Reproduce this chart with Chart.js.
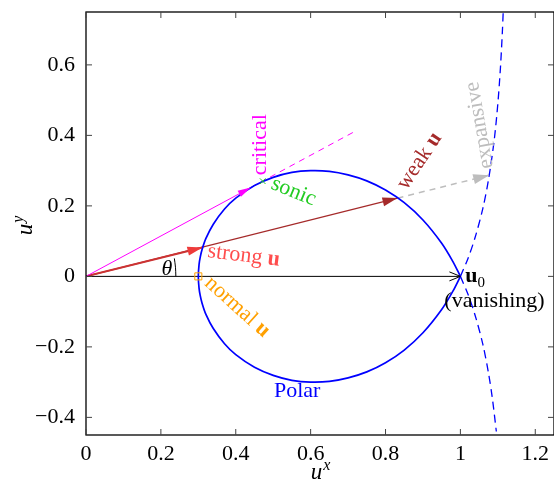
<!DOCTYPE html>
<html>
<head>
<meta charset="utf-8">
<script src="https://cdn.jsdelivr.net/npm/chart.js@4.4.1/dist/chart.umd.min.js"></script>
<style>
  html, body { margin: 0; padding: 0; background: #fff; }
  #wrap { width: 554px; height: 482px; }
</style>
</head>
<body>
<div id="wrap"><canvas id="polarChart"></canvas></div>
<script>
// shock polar (u0 = 1, normal shock at 0.3)
const polarUx = [1, 0.98, 0.95, 0.9, 0.85, 0.8, 0.75, 0.7, 0.65, 0.6, 0.55, 0.5, 0.45, 0.4, 0.37, 0.34, 0.32, 0.31, 0.305, 0.302, 0.3,
                 0.302, 0.305, 0.31, 0.32, 0.34, 0.37, 0.4, 0.45, 0.5, 0.55, 0.6, 0.65, 0.7, 0.75, 0.8, 0.85, 0.9, 0.95, 0.98, 1];
const polarUy = [0, 0.042, 0.094, 0.160, 0.209, 0.245, 0.271, 0.288, 0.298, 0.300, 0.295, 0.281, 0.258, 0.222, 0.191, 0.148, 0.107, 0.076, 0.054, 0.034, 0,
                 -0.034, -0.054, -0.076, -0.107, -0.148, -0.191, -0.222, -0.258, -0.281, -0.295, -0.300, -0.298, -0.288, -0.271, -0.245, -0.209, -0.160, -0.094, -0.042, 0];

// non physical branches beyond u0 (dashed)
const branchUpUx = [1, 1.02, 1.04, 1.06, 1.075, 1.09, 1.10, 1.107, 1.112, 1.115];
const branchUpUy = [0, 0.050, 0.113, 0.193, 0.274, 0.384, 0.490, 0.593, 0.692, 0.768];
const branchDownUx = [1, 1.02, 1.04, 1.06, 1.075, 1.085, 1.096];
const branchDownUy = [0, -0.050, -0.113, -0.193, -0.274, -0.343, -0.44];

// vectors
const freeStreamUx = [0, 1], freeStreamUy = [0, 0];
const criticalUx = [0, 0.44], criticalUy = [0, 0.252];
const criticalExtUx = [0.44, 0.723], criticalExtUy = [0.252, 0.414];
const strongUx = [0, 0.311], strongUy = [0, 0.082];
const weakUx = [0, 0.832], weakUy = [0, 0.222];
const expansiveUx = [0.832, 1.077], expansiveUy = [0.222, 0.287];
const thetaArcUx = [0.24, 0.239, 0.236], thetaArcUy = [0, 0.026, 0.051];
const normalUx = [0.3], normalUy = [0];
const sonicUx = [0.472], sonicUy = [0.27];

// ticks
const xTicks = [0, 0.2, 0.4, 0.6, 0.8, 1, 1.2];
const xTickLabels = ['0', '0.2', '0.4', '0.6', '0.8', '1', '1.2'];
const yTicks = [-0.4, -0.2, 0, 0.2, 0.4, 0.6];
const yTickLabels = ['\u22120.4', '\u22120.2', '0', '0.2', '0.4', '0.6'];

const serif = '"Liberation Serif", "Times New Roman", serif';
const pts = (xs, ys) => xs.map((x, i) => ({ x: x, y: ys[i] }));

Chart.defaults.font.family = serif;

// text annotations (data coords of the left/centre anchor)
const notes = [
  { at: [0.464, 0.287], rot: -90, color: '#ff00ff', parts: [['critical']] },
  { at: [0.497, 0.265], rot: 22, color: '#22cc22', parts: [['sonic']] },
  { at: [0.325, 0.071], rot: 7, color: '#ff4d4d', parts: [['strong '], ['u', 'b']] },
  { at: [0.325, -0.011], rot: 42, color: '#ffa000', parts: [['normal '], ['u', 'b']] },
  { at: [0.843, 0.252], rot: -56, color: '#a52a2a', parts: [['weak '], ['u', 'b']] },
  { at: [1.072, 0.306], rot: -100, color: '#bdbdbd', parts: [['expansive']] },
  { at: [1.013, 0.0], rot: 0, color: '#000', parts: [['u', 'b'], ['0', 'sub']] },
  { at: [1.091, -0.071], rot: 0, color: '#000', align: 'center', parts: [['(vanishing)']] },
  { at: [0.564, -0.326], rot: 0, color: '#0000ff', align: 'center', parts: [['Polar']] },
  { at: [0.216, 0.02], rot: 0, color: '#000', align: 'center', parts: [['\u03b8', 'i']] }
];

function fontFor(kind, size) {
  if (kind === 'b') return 'bold ' + size + 'px ' + serif;
  if (kind === 'i') return 'italic ' + size + 'px ' + serif;
  if (kind === 'sub' || kind === 'sup') return Math.round(size * 0.7) + 'px ' + serif;
  return size + 'px ' + serif;
}

function drawRich(ctx, parts, x, y, rot, color, align, size) {
  ctx.save();
  ctx.translate(x, y);
  ctx.rotate(rot * Math.PI / 180);
  ctx.fillStyle = color;
  ctx.textBaseline = 'middle';
  ctx.textAlign = 'left';
  let total = 0;
  parts.forEach(p => { ctx.font = fontFor(p[1], size); total += ctx.measureText(p[0]).width; });
  let cx = align === 'center' ? -total / 2 : 0;
  parts.forEach(p => {
    ctx.font = fontFor(p[1], size);
    const dy = p[1] === 'sub' ? size * 0.3 : (p[1] === 'sup' ? -size * 0.35 : 0);
    ctx.fillText(p[0], cx, dy);
    cx += ctx.measureText(p[0]).width;
  });
  ctx.restore();
}

function arrowHead(ctx, a, b, len, half, color, open) {
  const ang = Math.atan2(b.y - a.y, b.x - a.x);
  ctx.save();
  ctx.translate(b.x, b.y);
  ctx.rotate(ang);
  ctx.beginPath();
  ctx.moveTo(-len, -half);
  ctx.lineTo(0, 0);
  ctx.lineTo(-len, half);
  if (open) {
    ctx.strokeStyle = color; ctx.lineWidth = 1; ctx.stroke();
  } else {
    ctx.closePath(); ctx.fillStyle = color; ctx.fill();
  }
  ctx.restore();
}

const decorations = {
  id: 'decorations',
  afterDatasetsDraw(chart) {
    const ctx = chart.ctx;
    chart.data.datasets.forEach((ds, i) => {
      if (!ds.arrow) return;
      const d = chart.getDatasetMeta(i).data;
      arrowHead(ctx, d[d.length - 2], d[d.length - 1], ds.arrow.len, ds.arrow.half, ds.arrow.color, ds.arrow.open);
    });
  },
  afterDraw(chart) {
    const ctx = chart.ctx, a = chart.chartArea;
    const xs = chart.scales.x, ys = chart.scales.y;

    // frame + inward ticks on all four sides
    ctx.save();
    ctx.strokeStyle = '#000';
    ctx.lineWidth = 1.3;
    ctx.strokeRect(a.left, a.top, a.right - a.left, a.bottom - a.top);
    ctx.lineWidth = 1;
    ctx.strokeStyle = '#444';
    ctx.beginPath();
    xTicks.forEach(v => {
      const px = xs.getPixelForValue(v);
      ctx.moveTo(px, a.bottom); ctx.lineTo(px, a.bottom - 6);
      ctx.moveTo(px, a.top); ctx.lineTo(px, a.top + 6);
    });
    yTicks.forEach(v => {
      const py = ys.getPixelForValue(v);
      ctx.moveTo(a.left, py); ctx.lineTo(a.left + 6, py);
      ctx.moveTo(a.right, py); ctx.lineTo(a.right - 6, py);
    });
    ctx.stroke();
    ctx.restore();

    // axis titles u^x and u^y
    ctx.save();
    ctx.fillStyle = '#000';
    ctx.textBaseline = 'alphabetic';
    ctx.textAlign = 'left';
    ctx.font = 'italic 23px ' + serif;
    const wu = ctx.measureText('u').width;
    ctx.font = 'italic 16px ' + serif;
    const wx = ctx.measureText('x').width;
    let sx = (a.left + a.right) / 2 - (wu + wx) / 2;
    ctx.font = 'italic 23px ' + serif;
    ctx.fillText('u', sx, 479);
    ctx.font = 'italic 16px ' + serif;
    ctx.fillText('x', sx + wu + 1, 470);

    ctx.translate(32, 226);
    ctx.rotate(-Math.PI / 2);
    ctx.font = 'italic 16px ' + serif;
    const wy = ctx.measureText('y').width;
    sx = -(wu + wy) / 2;
    ctx.font = 'italic 23px ' + serif;
    ctx.fillText('u', sx, 0);
    ctx.font = 'italic 16px ' + serif;
    ctx.fillText('y', sx + wu + 1, -9);
    ctx.restore();

    // labels
    notes.forEach(n => {
      drawRich(ctx, n.parts, xs.getPixelForValue(n.at[0]), ys.getPixelForValue(n.at[1]),
               n.rot, n.color, n.align || 'left', 22);
    });
  }
};

new Chart(document.getElementById('polarChart'), {
  type: 'scatter',
  data: {
    datasets: [
      { data: pts(polarUx, polarUy), showLine: true, borderColor: '#0000ff', borderWidth: 1.7, tension: 0.3, pointRadius: 0, order: 0 },
      { data: pts(branchUpUx, branchUpUy), showLine: true, borderColor: '#0000ff', borderWidth: 1.3, borderDash: [8, 5], tension: 0.3, pointRadius: 0, order: 1 },
      { data: pts(branchDownUx, branchDownUy), showLine: true, borderColor: '#0000ff', borderWidth: 1.3, borderDash: [8, 5], tension: 0.3, pointRadius: 0, order: 1 },
      { data: pts(freeStreamUx, freeStreamUy), showLine: true, borderColor: '#000', borderWidth: 1, pointRadius: 0, order: 2,
        arrow: { len: 11, half: 4.5, color: '#000', open: true } },
      { data: pts(criticalUx, criticalUy), showLine: true, borderColor: '#ff00ff', borderWidth: 1, pointRadius: 0, order: 2,
        arrow: { len: 13, half: 3.5, color: '#ff00ff' } },
      { data: pts(criticalExtUx, criticalExtUy), showLine: true, borderColor: '#ff00ff', borderWidth: 1, borderDash: [6, 5], pointRadius: 0, order: 2 },
      { data: pts(weakUx, weakUy), showLine: true, borderColor: '#a52a2a', borderWidth: 1.2, pointRadius: 0, order: 3,
        arrow: { len: 15, half: 4.5, color: '#a52a2a' } },
      { data: pts(strongUx, strongUy), showLine: true, borderColor: '#cc3333', borderWidth: 2, pointRadius: 0, order: 2,
        arrow: { len: 15, half: 4.5, color: '#ee3b3b' } },
      { data: pts(expansiveUx, expansiveUy), showLine: true, borderColor: '#bdbdbd', borderWidth: 1.5, borderDash: [6, 5], pointRadius: 0, order: 2,
        arrow: { len: 16, half: 5, color: '#bdbdbd' } },
      { data: pts(thetaArcUx, thetaArcUy), showLine: true, borderColor: '#000', borderWidth: 1, tension: 0.3, pointRadius: 0, order: 2 },
      { data: pts(normalUx, normalUy), showLine: false, pointStyle: 'rect', pointRadius: 5, borderColor: '#ffa000', borderWidth: 1,
        backgroundColor: 'rgba(0,0,0,0)', order: -1 },
      { data: pts(sonicUx, sonicUy), showLine: false, pointStyle: 'crossRot', pointRadius: 4, borderColor: '#22cc22', borderWidth: 1,
        backgroundColor: '#22cc22', order: -1 }
    ]
  },
  options: {
    responsive: true,
    maintainAspectRatio: false,
    animation: false,
    layout: { autoPadding: false, padding: { top: 12, right: 0, left: 0, bottom: 0 } },
    plugins: { legend: { display: false }, tooltip: { enabled: false } },
    scales: {
      x: {
        type: 'linear', min: 0, max: 1.25,
        grid: { display: false, drawTicks: false },
        border: { display: false },
        afterBuildTicks: s => { s.ticks = xTicks.map(v => ({ value: v })); },
        afterFit: s => { s.height = 47; s.paddingLeft = 0; s.paddingRight = 0; },
        ticks: { padding: 6, color: '#000', maxRotation: 0, font: { family: serif, size: 22 },
                 callback: (v, i) => xTickLabels[i] }
      },
      y: {
        type: 'linear', min: -0.45, max: 0.75,
        grid: { display: false, drawTicks: false },
        border: { display: false },
        afterBuildTicks: s => { s.ticks = yTicks.map(v => ({ value: v })); },
        afterFit: s => { s.width = 86; s.paddingTop = 0; s.paddingBottom = 0; },
        ticks: { padding: 11, color: '#000', font: { family: serif, size: 22 },
                 callback: (v, i) => yTickLabels[i] }
      }
    }
  },
  plugins: [decorations]
});
</script>
</body>
</html>
